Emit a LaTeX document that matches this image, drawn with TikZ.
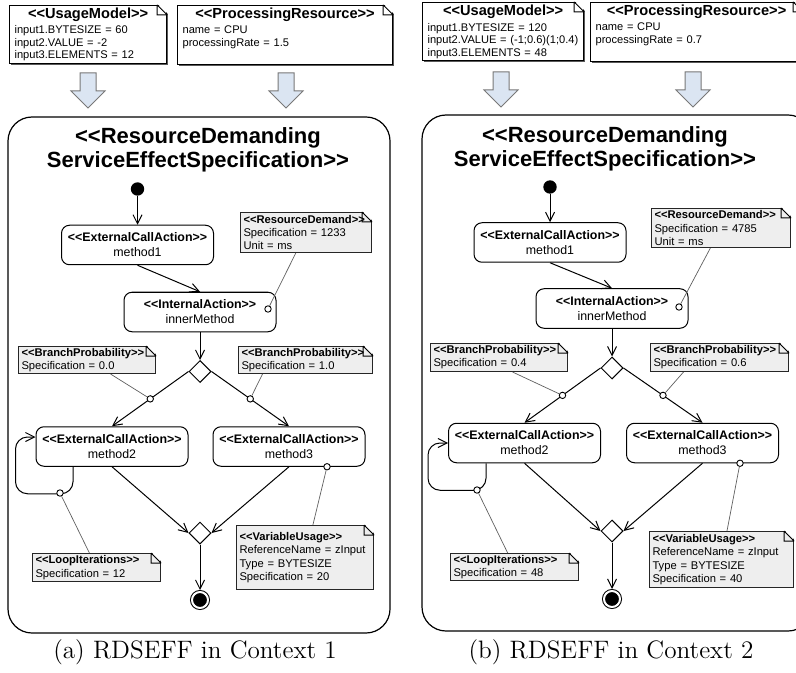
\documentclass[tikz,border=0pt]{standalone}
\usepackage{fontspec}
\newfontfamily\umlfont{Liberation Sans}
\usepackage{tikz}
\usetikzlibrary{arrows.meta,positioning,calc,shapes.geometric}
\definecolor{notegray}{RGB}{238,238,238}
\definecolor{ctxblue}{RGB}{219,229,242}
\definecolor{ctxedge}{RGB}{120,120,120}
\definecolor{linkgray}{RGB}{95,95,95}
\newcommand{\ctxtitle}[1]{\makebox[\linewidth]{\fontsize{7.3}{8}\selectfont\bfseries #1}}
\newcommand{\spectitle}[1]{{\fontsize{5.6}{6.6}\selectfont\bfseries #1}}
% dog-ear of a note
\newcommand{\foldcorner}[1]{%
  \fill[white] ([xshift=-5pt,yshift=0.6pt]#1.north east) -- ([xshift=1pt,yshift=0.6pt]#1.north east) -- ([xshift=1pt,yshift=-5pt]#1.north east) -- cycle;
  \draw[notefold] ([xshift=-5pt]#1.north east) -- ([yshift=-5pt]#1.north east)
    ([xshift=-5pt]#1.north east) |- ([yshift=-5pt]#1.north east);
}
% hollow block arrow below a context note
\newcommand{\contextarrow}[2]{%
  \draw[ctxarrow] (#1,#2) ++(-8,0) -- ++(16,0) -- ++(0,18) -- ++(9,0) -- ++(-17,17) -- ++(-17,-17) -- ++(9,0) -- cycle;
}

\begin{document}
\begin{tikzpicture}[x=0.5pt, y=-0.5pt,
    ctxnote/.style={draw=black, line width=0.6pt, fill=white, anchor=north west, align=left,
      inner xsep=2.5pt, inner ysep=1pt, font=\fontsize{5.55}{6.25}\selectfont\umlfont,
      preaction={fill=black!65, transform canvas={xshift=0.7pt,yshift=-0.7pt}}},
    specnote/.style={draw=black!85, line width=0.5pt, fill=notegray, anchor=north west, align=left,
      inner xsep=1.5pt, inner ysep=0.5pt, font=\fontsize{5.6}{6.6}\selectfont\umlfont},
    notefold/.style={line width=0.5pt},
    action/.style={draw, rounded corners=4pt, line width=0.5pt, fill=white, minimum width=76pt,
      minimum height=19.75pt, inner sep=0pt, align=center, font=\fontsize{6.2}{7.5}\selectfont\umlfont},
    decision/.style={diamond, draw, line width=0.5pt, fill=white, minimum size=11pt, inner sep=0pt, aspect=1},
    initial/.style={circle, fill=black, minimum size=6.7pt, inner sep=0pt},
    final/.style={circle, fill=black, draw, line width=0.5pt, double=white, double distance=1pt,
      minimum size=8pt, inner sep=0pt, outer sep=1pt},
    flow/.style={-{Straight Barb[length=4.5pt,width=4.5pt]}, line width=0.5pt},
    link/.style={linkgray, line width=0.35pt},
    dot/.style={circle, draw, fill=white, line width=0.45pt, minimum size=3.2pt, inner sep=0pt},
    seffbox/.style={draw, line width=0.6pt, rounded corners=12pt},
    sefftitle/.style={align=center, font=\fontsize{11}{12}\selectfont\umlfont\bfseries},
    ctxarrow/.style={draw=ctxedge, fill=ctxblue, line width=0.5pt},
    caption/.style={font=\fontsize{12.6}{15}\selectfont}]
  \useasboundingbox (0,0) rectangle (796,673);
  \clip (0,0) rectangle (796,673);

  % ---------------- (a) Context 1 ----------------
  % context notes
  \node[ctxnote, text width=73.5pt, minimum height=28.5pt] (um1) at (9,5)
    {\ctxtitle{<<UsageModel>>}\\[1.6pt] input1.BYTESIZE = 60\\ input2.VALUE = -2\\ input3.ELEMENTS = 12};
  \foldcorner{um1}
  \node[ctxnote, text width=102.5pt, minimum height=28.5pt] (pr1) at (177,5)
    {\ctxtitle{<<ProcessingResource>>}\\[1.6pt] name = CPU\\ processingRate = 1.5\\ \strut};
  \foldcorner{pr1}
  \contextarrow{88}{73}
  \contextarrow{286}{73}
  % RDSEFF frame
  \draw[seffbox] (8,117) rectangle (390,633);
  \node[sefftitle] (t1) at (198,150) {<<ResourceDemanding\\ServiceEffectSpecification>>};
  % control flow
  \node[initial] (s1) at (137.5,189) {};
  \node[action] (m1a) at (137.5,245) {\textbf{<<ExternalCallAction>>}\\method1};
  \node[action] (ia1) at (200,312) {\textbf{<<InternalAction>>}\\innerMethod};
  \node[decision] (d1) at (200,371.5) {};
  \node[action] (m2a) at (112,446.5) {\textbf{<<ExternalCallAction>>}\\method2};
  \node[action] (m3a) at (289,446.5) {\textbf{<<ExternalCallAction>>}\\method3};
  \node[decision] (j1) at (200,533) {};
  \node[final] (f1) at (200,600) {};
  \draw[flow] (s1) -- (m1a);
  \draw[flow] (m1a.south) -- (ia1.north);
  \draw[flow] (ia1) -- (d1);
  \draw[flow] (d1.west) -- node[dot] (bpd1) {} (m2a.north);
  \draw[flow] (d1.east) -- node[dot] (bpd2) {} (m3a.north);
  \draw[flow] (m2a.south) -- (j1.west);
  \draw[flow] (m3a.south) -- (j1.east);
  \draw[flow] (j1) -- (f1);
  \draw[flow, rounded corners=6pt] ([xshift=-19.5pt]m2a.south) -- ++(0,27)
    -| ([xshift=-10pt,yshift=4.75pt]m2a.west) -- ([yshift=4.75pt]m2a.west);
  % annotations
  \node[dot] (rdd1) at ([xshift=34pt,yshift=1.5pt]ia1.center) {};
  \node[dot] (ld1) at (60,493) {};
  \node[dot] (vud1) at ([xshift=19pt]m3a.south) {};
  \node[specnote, text width=62.5pt, minimum height=20pt] (rd1) at (240,212)
    {\spectitle{<<ResourceDemand>>}\\ Specification = 1233\\ Unit = ms};
  \foldcorner{rd1}
  \node[specnote, text width=65.5pt, minimum height=13.5pt] (bpl1) at (18,346)
    {\spectitle{<<BranchProbability>>}\\ Specification = 0.0};
  \foldcorner{bpl1}
  \node[specnote, text width=64pt, minimum height=13.5pt] (bpr1) at (238,346)
    {\spectitle{<<BranchProbability>>}\\ Specification = 1.0};
  \foldcorner{bpr1}
  \node[specnote, text width=61pt, minimum height=14pt] (li1) at (32,553)
    {\spectitle{<<LoopIterations>>}\\ Specification = 12};
  \foldcorner{li1}
  \node[specnote, text width=65.5pt, minimum height=32pt] (vu1) at (236,525)
    {\spectitle{<<VariableUsage>>}\\ ReferenceName = zInput\\ Type = BYTESIZE\\ Specification = 20};
  \foldcorner{vu1}
  \draw[link] (rd1) -- (rdd1);
  \draw[link] ([xshift=11.75pt]bpl1.south) -- (bpd1);
  \draw[link] ([xshift=-21.5pt]bpr1.south) -- (bpd2);
  \draw[link] (ld1) -- (li1);
  \draw[link] (vud1) -- (vu1);
  \node[caption] (cap1) at (195,652) {(a) RDSEFF in Context 1};

  % ---------------- (b) Context 2 ----------------
  % context notes
  \node[ctxnote, text width=75.5pt, minimum height=29pt] (um2) at (422,2)
    {\ctxtitle{<<UsageModel>>}\\[1.6pt] input1.BYTESIZE = 120\\ input2.VALUE = (-1;0.6)(1;0.4)\\ input3.ELEMENTS = 48};
  \foldcorner{um2}
  \node[ctxnote, text width=101pt, minimum height=29pt] (pr2) at (590,2)
    {\ctxtitle{<<ProcessingResource>>}\\[1.6pt] name = CPU\\ processingRate = 0.7\\ \strut};
  \foldcorner{pr2}
  \contextarrow{501}{72}
  \contextarrow{693}{72}
  % RDSEFF frame
  \draw[seffbox] (422,115) rectangle (812,631);
  \node[sefftitle] (t2) at (605,148.5) {<<ResourceDemanding\\ServiceEffectSpecification>>};
  % control flow
  \node[initial] (s2) at (550,187) {};
  \node[action] (m1b) at (550,242.5) {\textbf{<<ExternalCallAction>>}\\method1};
  \node[action] (ib) at (612,308.5) {\textbf{<<InternalAction>>}\\innerMethod};
  \node[decision] (d2) at (612,368) {};
  \node[action] (m2b) at (524.5,443) {\textbf{<<ExternalCallAction>>}\\method2};
  \node[action] (m3b) at (702.5,443) {\textbf{<<ExternalCallAction>>}\\method3};
  \node[decision] (j2) at (612,531) {};
  \node[final] (f2) at (612,599) {};
  \draw[flow] (s2) -- (m1b);
  \draw[flow] (m1b.south) -- (ib.north);
  \draw[flow] (ib) -- (d2);
  \draw[flow] (d2.west) -- node[dot] (bpd3) {} (m2b.north);
  \draw[flow] (d2.east) -- node[dot] (bpd4) {} (m3b.north);
  \draw[flow] (m2b.south) -- (j2.west);
  \draw[flow] (m3b.south) -- (j2.east);
  \draw[flow] (j2) -- (f2);
  \draw[flow, rounded corners=6pt] ([xshift=-19.25pt]m2b.south) -- ++(0,27)
    -| ([xshift=-10pt]m2b.west) -- (m2b.west);
  % annotations
  \node[dot] (rdd2) at ([xshift=33.5pt,yshift=0.75pt]ib.center) {};
  \node[dot] (ld2) at (477,490) {};
  \node[dot] (vud2) at ([xshift=18.75pt]m3b.south) {};
  \node[specnote, text width=66.5pt, minimum height=19.5pt] (rd2) at (651,208)
    {\spectitle{<<ResourceDemand>>}\\ Specification = 4785\\ Unit = ms};
  \foldcorner{rd2}
  \node[specnote, text width=65.5pt, minimum height=14pt] (bpl2) at (430,343)
    {\spectitle{<<BranchProbability>>}\\ Specification = 0.4};
  \foldcorner{bpl2}
  \node[specnote, text width=66pt, minimum height=14pt] (bpr2) at (650,343)
    {\spectitle{<<BranchProbability>>}\\ Specification = 0.6};
  \foldcorner{bpr2}
  \node[specnote, text width=61pt, minimum height=13.5pt] (li2) at (450,553)
    {\spectitle{<<LoopIterations>>}\\ Specification = 48};
  \foldcorner{li2}
  \node[specnote, text width=69pt, minimum height=28pt] (vu2) at (649,531)
    {\spectitle{<<VariableUsage>>}\\ ReferenceName = zInput\\ Type = BYTESIZE\\ Specification = 40};
  \foldcorner{vu2}
  \draw[link] (rd2) -- (rdd2);
  \draw[link] ([xshift=6.75pt]bpl2.south) -- (bpd3);
  \draw[link] ([xshift=-18pt]bpr2.south) -- (bpd4);
  \draw[link] (ld2) -- (li2);
  \draw[link] (vud2) -- (vu2);
  \node[caption] (cap2) at (611,652) {(b) RDSEFF in Context 2};
\end{tikzpicture}
\end{document}
